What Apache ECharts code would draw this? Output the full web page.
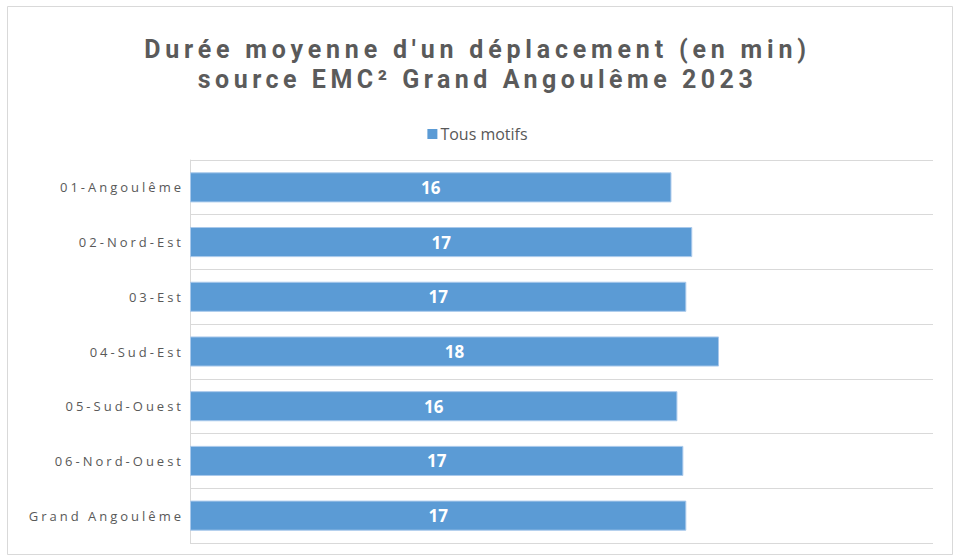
<!DOCTYPE html>
<html>
<head>
<meta charset="utf-8">
<script src="https://cdn.jsdelivr.net/npm/echarts@6/dist/echarts.min.js"></script>
<style>
html,body{margin:0;padding:0;background:#fff;}
#chart{width:955px;height:556px;}
#chart svg text[fill="#595959" i]{letter-spacing:3px;}
</style>
</head>
<body>
<div id="chart"></div>
<script>
const titleLines = ["Durée moyenne d'un déplacement (en min)", "source EMC² Grand Angoulême 2023"];
const seriesName = "Tous motifs";
const categories = ["01-Angoulême", "02-Nord-Est", "03-Est", "04-Sud-Est", "05-Sud-Ouest", "06-Nord-Ouest", "Grand Angoulême"];
const values = [16.2, 16.9, 16.7, 17.8, 16.4, 16.6, 16.7];
const axisMax = 25;

// layout / style settings
const titleFont = {family: 'Roboto', size: 25, weight: 'bold'};
const titleColors = ['#5a5a5a', '#5b5b5b'];
const titleTargetWidths = [662, 555];

// letter-spacing emulation for the title (Excel-style spaced text)
(function () {
  const c = document.createElement('canvas').getContext('2d');
  c.font = titleFont.weight + ' ' + titleFont.size + 'px ' + titleFont.family;
  let css = '';
  titleLines.forEach((t, i) => {
    const w = c.measureText(t).width;
    const ls = Math.max(0, (titleTargetWidths[i] - w) / (t.length - 1));
    css += '#chart svg text[fill="' + titleColors[i] + '" i]{letter-spacing:' + ls.toFixed(2) + 'px;}\n';
  });
  const st = document.createElement('style');
  st.textContent = css;
  document.head.appendChild(st);
})();

const chart = echarts.init(document.getElementById('chart'), null, {renderer: 'svg'});
chart.setOption({
  backgroundColor: '#ffffff',
  animation: false,
  graphic: [{
    type: 'rect',
    shape: {x: 7.5, y: 6.5, width: 945, height: 548},
    style: {fill: 'none', stroke: '#D9D9D9', lineWidth: 1},
    silent: true
  }],
  title: titleLines.map((t, i) => ({
    text: t,
    left: 'center',
    top: 35 + i * 30,
    padding: 0,
    textStyle: {
      fontFamily: titleFont.family,
      fontWeight: titleFont.weight,
      fontSize: titleFont.size,
      lineHeight: 28,
      color: titleColors[i]
    }
  })),
  legend: {
    data: [seriesName],
    top: 121,
    left: 'center',
    icon: 'rect',
    itemWidth: 10,
    itemHeight: 10,
    itemGap: 4,
    itemStyle: {borderWidth: 0},
    textStyle: {fontFamily: 'Open Sans', fontSize: 16, color: '#585858', padding: [0, 0, 0, -2]}
  },
  grid: {left: 190, right: 22, top: 160, bottom: 13, containLabel: false},
  xAxis: {
    type: 'value',
    min: 0,
    max: axisMax,
    show: false,
    splitLine: {show: false}
  },
  yAxis: {
    type: 'category',
    data: categories,
    inverse: true,
    axisLine: {show: true, lineStyle: {color: '#D9D9D9', width: 1}},
    axisTick: {show: false},
    splitLine: {show: true, lineStyle: {color: '#D9D9D9', width: 1}},
    axisLabel: {
      fontFamily: 'Open Sans',
      fontSize: 13,
      color: '#595959',
      margin: 6,
      padding: [0, 0, 2, 0]
    }
  },
  series: [{
    name: seriesName,
    type: 'bar',
    data: values,
    barCategoryGap: '45%',
    itemStyle: {color: '#5B9BD5', borderColor: '#A9C9EB', borderWidth: 1},
    label: {
      show: true,
      position: 'inside',
      formatter: p => Math.round(p.value),
      fontFamily: 'Open Sans',
      fontWeight: 'bold',
      fontSize: 17,
      color: '#ffffff'
    }
  }]
});
</script>
</body>
</html>
